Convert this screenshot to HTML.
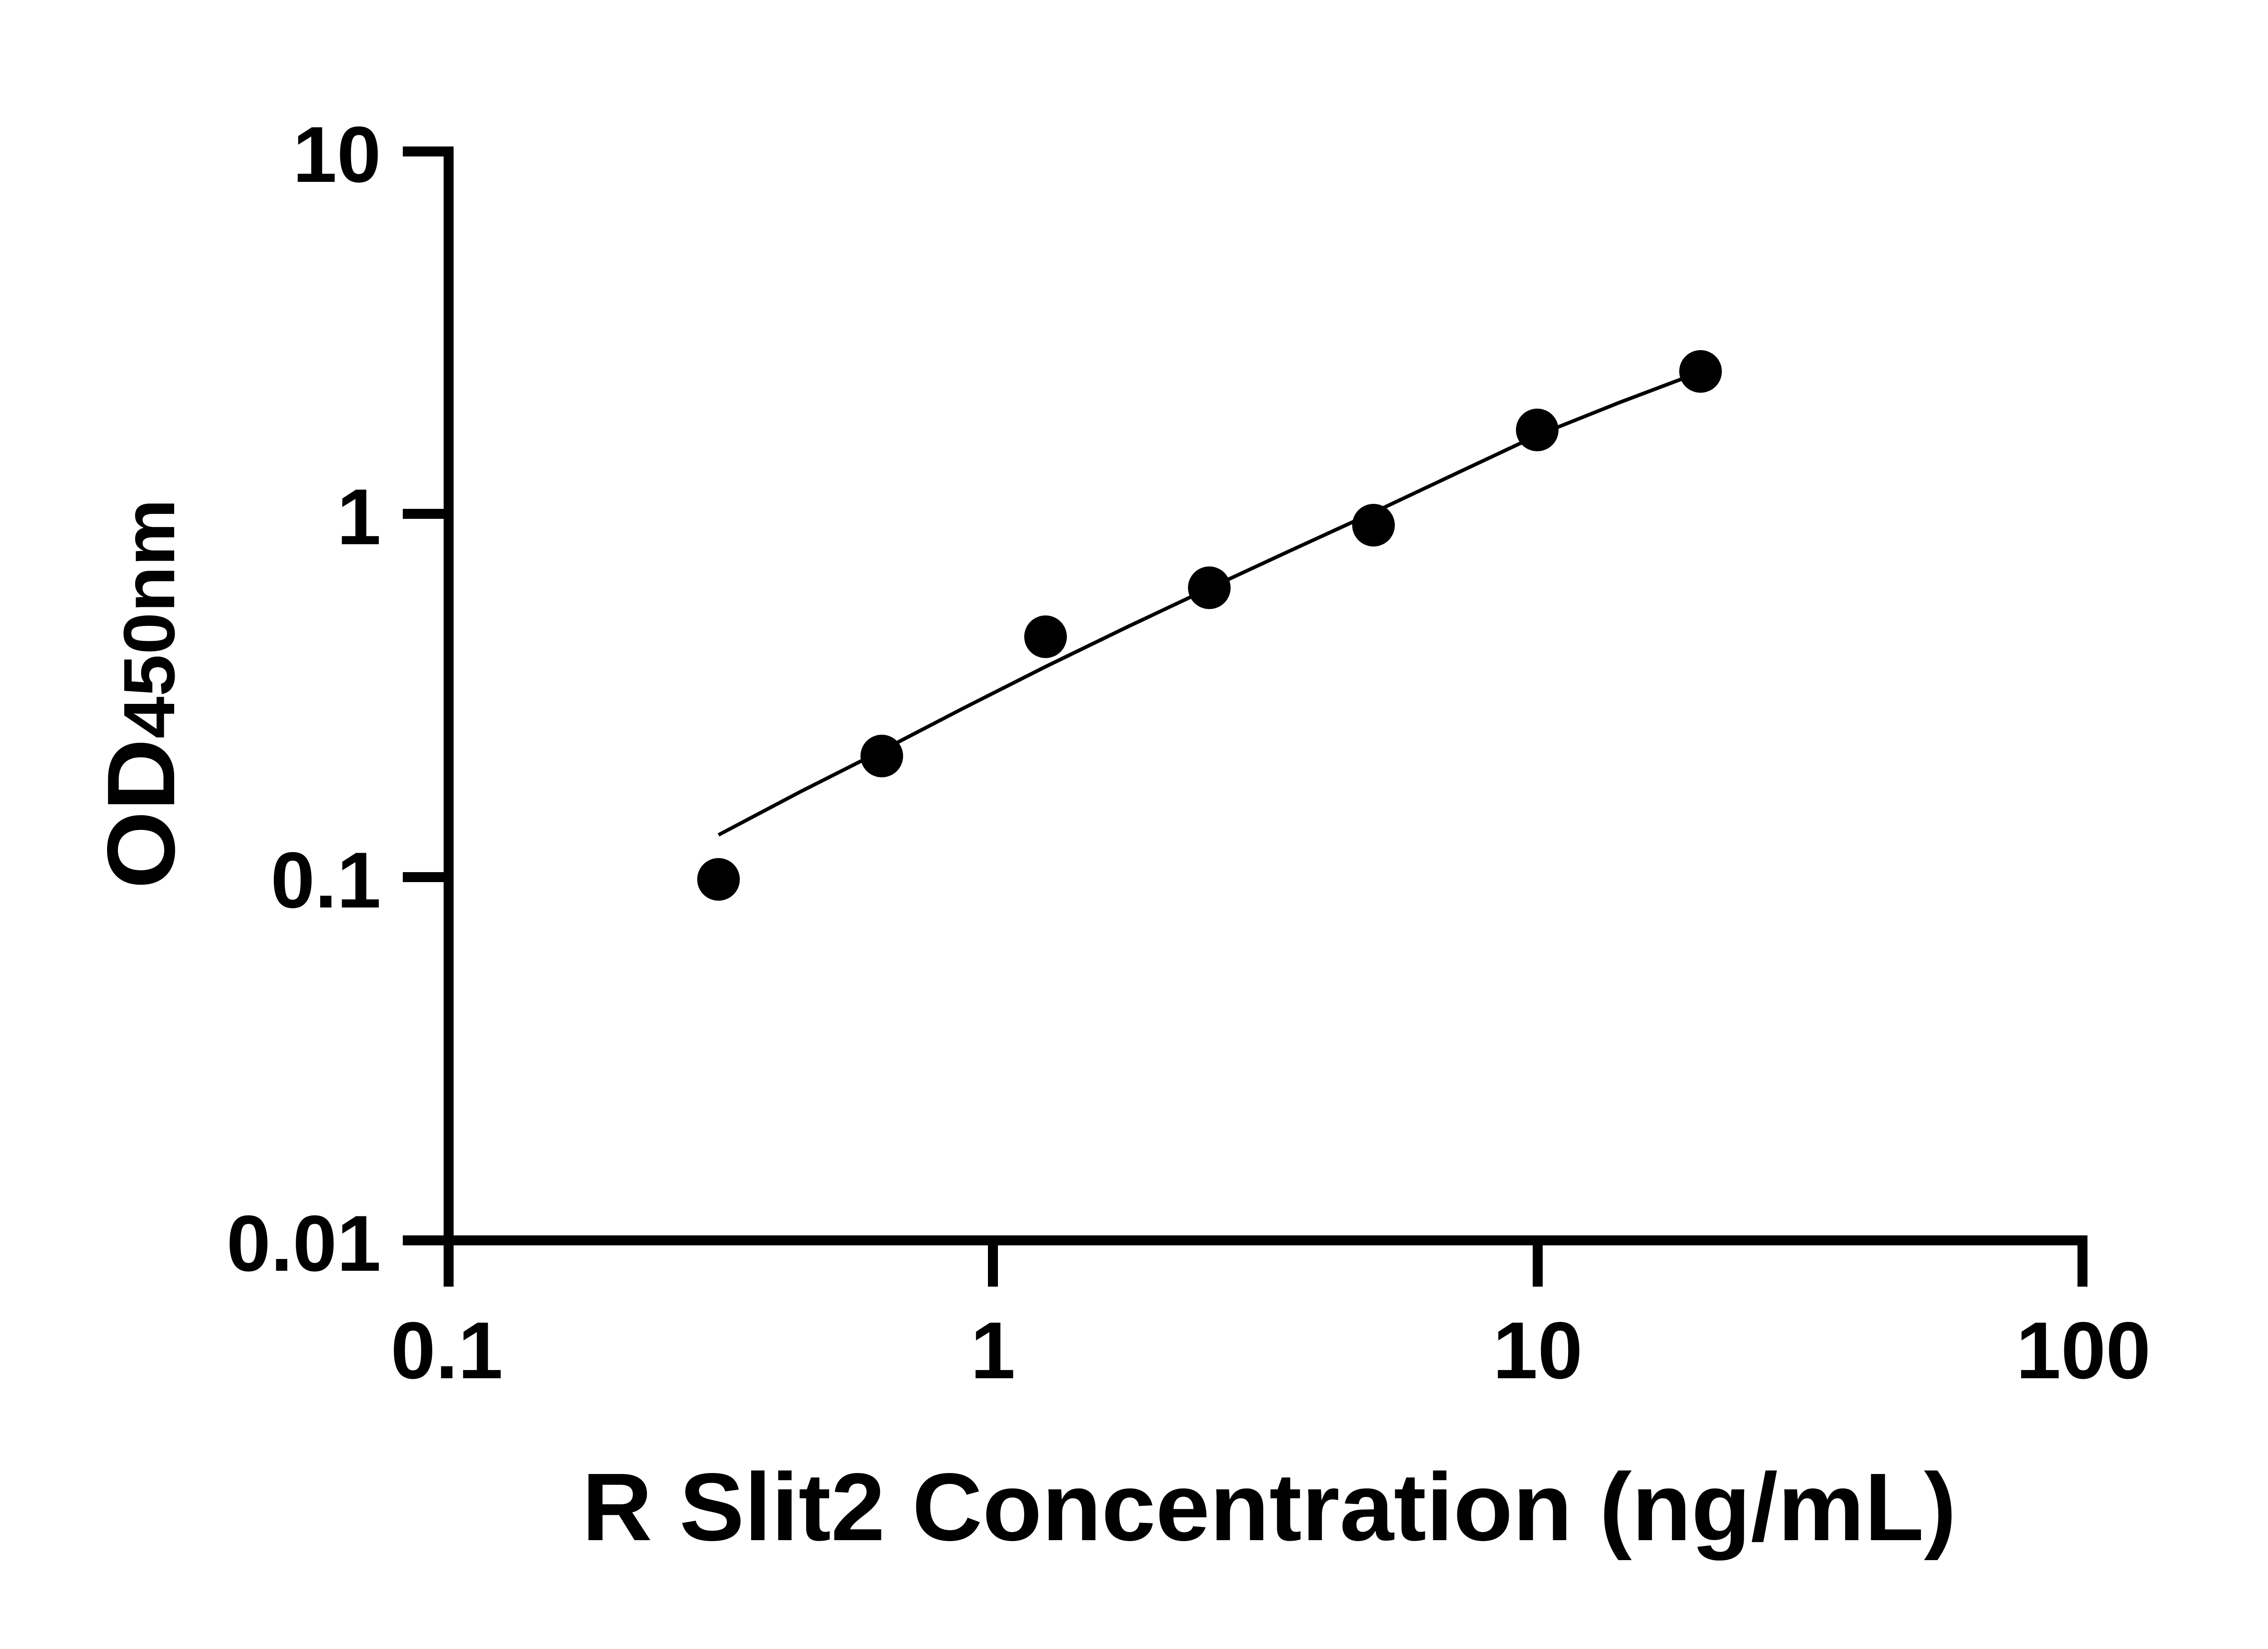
<!DOCTYPE html>
<html><head><meta charset="utf-8"><style>
html,body{margin:0;padding:0;background:#fff;}
svg{display:block;}
text{font-family:"Liberation Sans",sans-serif;font-weight:bold;fill:#000;}
</style></head><body>
<svg width="5142" height="3636" viewBox="0 0 5142 3636" xmlns="http://www.w3.org/2000/svg">
<rect width="5142" height="3636" fill="#fff"/>
<g stroke="#000" stroke-width="22" fill="none">
<line x1="989" y1="323" x2="989" y2="2837"/>
<line x1="888" y1="2735" x2="4602" y2="2735"/>
<line x1="888" y1="334" x2="989" y2="334"/>
<line x1="888" y1="1133" x2="989" y2="1133"/>
<line x1="888" y1="1934" x2="989" y2="1934"/>
<line x1="2189" y1="2735" x2="2189" y2="2837"/>
<line x1="3390" y1="2735" x2="3390" y2="2837"/>
<line x1="4591" y1="2735" x2="4591" y2="2837"/>
</g>
<g font-size="175" text-anchor="end">
<text x="840" y="401">10</text>
<text x="840" y="1200">1</text>
<text x="840" y="2001">0.1</text>
<text x="840" y="2802">0.01</text>
</g>
<g font-size="178" text-anchor="middle">
<text x="985" y="3039">0.1</text>
<text x="2189" y="3039">1</text>
<text x="3390" y="3039">10</text>
<text x="4593" y="3039">100</text>
</g>
<text x="1283" y="3396" font-size="212" textLength="3030" lengthAdjust="spacingAndGlyphs">R Slit2 Concentration (ng/mL)</text>
<text transform="translate(384,1960) rotate(-90)" font-size="212" textLength="860" lengthAdjust="spacingAndGlyphs">OD<tspan font-size="160">450nm</tspan></text>
<polyline fill="none" stroke="#000" stroke-width="8" points="1584,1841 1764,1746 1944,1655 2125,1561 2305,1470 2486,1382 2666,1297 2847,1213 3028,1130 3208,1045 3389,960 3569,888 3749,820"/>
<g fill="#000">
<circle cx="1584" cy="1939" r="47"/>
<circle cx="1944" cy="1667" r="47"/>
<circle cx="2305" cy="1404" r="47"/>
<circle cx="2666" cy="1296" r="47"/>
<circle cx="3028" cy="1158" r="47"/>
<circle cx="3389" cy="948" r="47"/>
<circle cx="3749" cy="819" r="47"/>
</g>
</svg>
</body></html>
